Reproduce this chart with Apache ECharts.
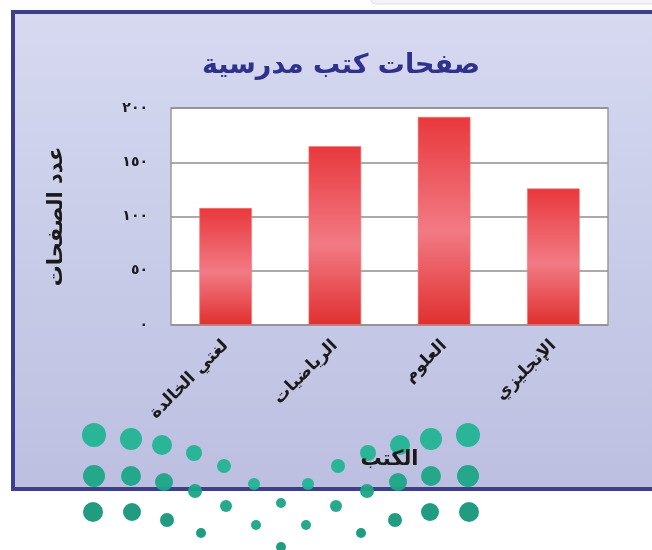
<!DOCTYPE html>
<html>
<head>
<meta charset="utf-8">
<script src="https://cdn.jsdelivr.net/npm/echarts@6/dist/echarts.min.js"></script>
<style>
html,body{margin:0;padding:0;background:#fff;}
#chart{width:652px;height:550px;}
</style>
</head>
<body>
<div id="chart"></div>
<script>
// ---- data ----
const chartTitle = 'صفحات كتب مدرسية';
const categories = ['لغتي الخالدة', 'الرياضيات', 'العلوم', 'الإنجليزي'];
const pages = [108, 165, 192, 126];
const yTickValues = [0, 50, 100, 150, 200];
const yTickLabels = ['٠', '٥٠', '١٠٠', '١٥٠', '٢٠٠'];
const xAxisName = 'الكتب';
const yAxisName = 'عدد الصفحات';

// ---- decorative logo (watermark) half, mirrored about a centre line ----
const logoCenterX = 281;
const logoHalf = [
  [94, 435, 12, 0], [94, 476, 11, 1], [93, 512, 10, 2],
  [131, 439, 11, 0], [131, 476, 10, 1], [132, 512, 9, 2],
  [162, 445, 10, 0], [164, 482, 9, 1], [167, 520, 7, 2],
  [194, 453, 8, 0], [195, 491, 7, 1], [201, 533, 5, 2],
  [224, 466, 7, 0], [226, 506, 6, 1],
  [254, 484, 6, 0], [256, 525, 5, 1]
];
const logoCentre = [[281, 503, 5, 1], [281, 547, 5, 2]];
const logoColors = ['#22b393', '#1ba585', '#16977a'];

const font = '"DejaVu Sans", sans-serif';
const chart = echarts.init(document.getElementById('chart'));

const graphics = [
  {
    type: 'rect', z: -20, silent: true,
    shape: { x: 370, y: -10, width: 320, height: 14, r: 6 },
    style: { fill: '#f4f4f8', stroke: '#dcdce6', lineWidth: 1 }
  },
  {
    type: 'rect', z: -10, silent: true,
    shape: { x: 13, y: 12, width: 700, height: 477 },
    style: {
      fill: new echarts.graphic.LinearGradient(0, 0, 0, 1, [
        { offset: 0, color: '#d6d9f0' },
        { offset: 1, color: '#bcbfe0' }
      ]),
      stroke: '#3d3f8e', lineWidth: 4
    }
  }
];
function addDot(x, y, r, row) {
  graphics.push({
    type: 'circle', z: -5, silent: true,
    shape: { cx: x, cy: y, r: r },
    style: { fill: logoColors[row], opacity: 0.95 }
  });
}
logoHalf.forEach(d => {
  addDot(d[0], d[1], d[2], d[3]);
  addDot(2 * logoCenterX - d[0], d[1], d[2], d[3]);
});
logoCentre.forEach(d => addDot(d[0], d[1], d[2], d[3]));

const option = {
  backgroundColor: '#ffffff',
  animation: false,
  textStyle: { fontFamily: font },
  title: {
    text: chartTitle,
    left: 336, top: 47, textAlign: 'center',
    textStyle: { fontFamily: font, fontWeight: 'bold', fontSize: 27, color: '#2f318a' }
  },
  graphic: graphics,
  grid: {
    left: 171, top: 108, width: 437, height: 217,
    show: true, backgroundColor: '#ffffff',
    borderColor: '#9a9a9a', borderWidth: 1.5
  },
  xAxis: {
    type: 'category',
    data: categories,
    name: xAxisName,
    nameLocation: 'middle',
    nameGap: 124,
    nameTextStyle: { fontFamily: font, fontWeight: 'bold', fontSize: 21, color: '#1a1a1a' },
    axisLine: { show: false },
    axisTick: { show: false },
    axisLabel: {
      rotate: 45, margin: 18, interval: 0,
      fontFamily: font, fontWeight: 'bold', fontSize: 17, color: '#1a1a1a'
    }
  },
  yAxis: {
    type: 'value',
    min: 0, max: 200, interval: 50,
    name: yAxisName,
    nameLocation: 'middle',
    nameRotate: 90,
    nameGap: 104,
    nameTextStyle: { fontFamily: font, fontWeight: 'bold', fontSize: 21, color: '#1a1a1a' },
    axisLine: { show: false },
    axisTick: { show: false },
    splitLine: { lineStyle: { color: '#8e8e8e', width: 1.5 } },
    axisLabel: {
      margin: 23,
      fontFamily: font, fontWeight: 'bold', fontSize: 14, color: '#1a1a1a',
      formatter: v => {
        const i = yTickValues.indexOf(v);
        return i >= 0 ? yTickLabels[i] : '';
      }
    }
  },
  series: [{
    type: 'bar',
    data: pages,
    barWidth: 53,
    itemStyle: {
      color: new echarts.graphic.LinearGradient(0, 0, 0, 1, [
        { offset: 0, color: '#e8383c' },
        { offset: 0.55, color: '#f27a84' },
        { offset: 1, color: '#e0302f' }
      ]),
      borderColor: 'rgba(240,120,120,0.6)',
      borderWidth: 1
    }
  }]
};
chart.setOption(option);
</script>
</body>
</html>
